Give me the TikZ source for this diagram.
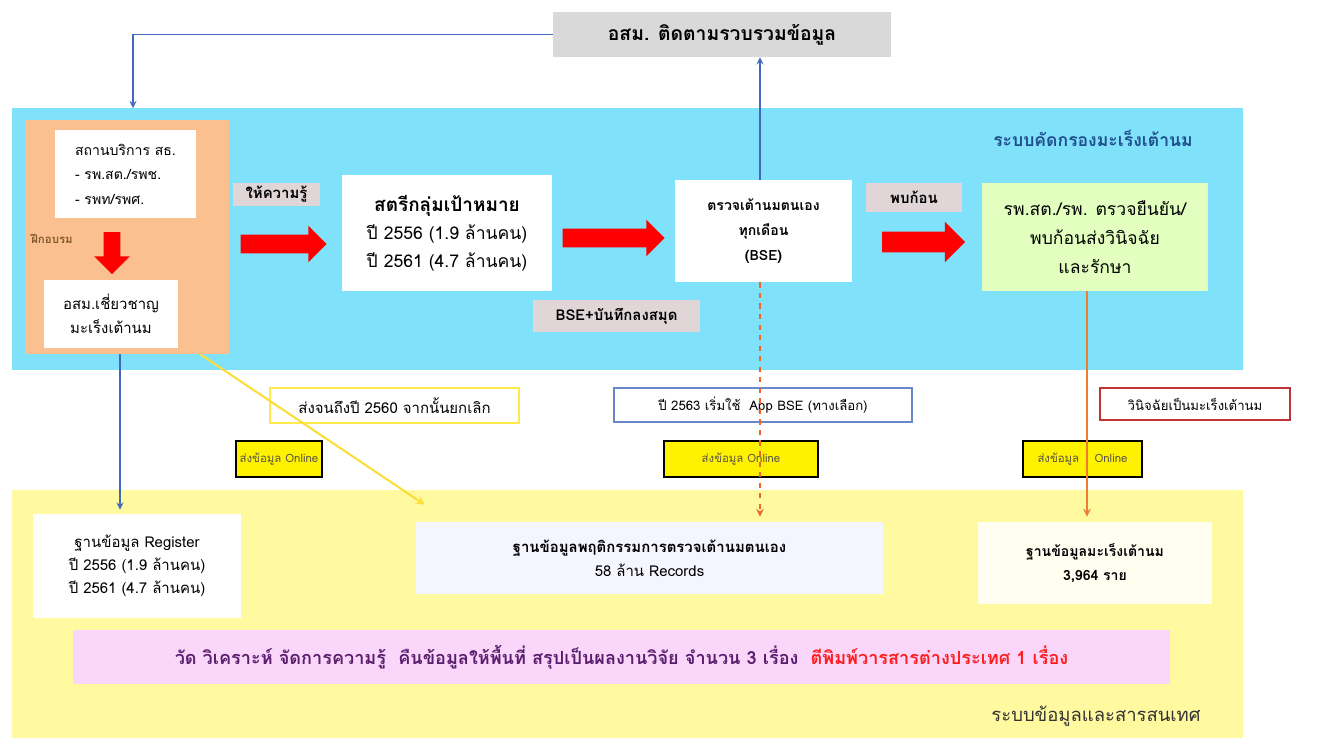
\documentclass[tikz,border=0pt]{standalone}
\usepackage{fontspec}
\setmainfont[Script=Thai]{Loma}
\usepackage{xcolor}
\definecolor{screen}{RGB}{128,226,250}
\definecolor{infosys}{RGB}{255,250,160}
\definecolor{svcorange}{RGB}{250,192,143}
\definecolor{tagc}{RGB}{224,214,216}
\definecolor{linkblue}{RGB}{68,104,190}
\definecolor{linkorange}{RGB}{237,125,49}
\definecolor{linkyellow}{RGB}{250,222,60}
\definecolor{titleblue}{RGB}{31,78,140}
\definecolor{sumpink}{RGB}{250,214,250}
\definecolor{sumtext}{RGB}{90,30,110}
\usepackage{tikz}
\usetikzlibrary{arrows,shapes,backgrounds,calc}

\begin{document}
\begin{tikzpicture}[x=0.02cm,y=-0.02cm,>=stealth,
  box/.style={fill=white,align=center,inner sep=0pt},
  tag/.style={fill=tagc,inner sep=0pt,font=\fontsize{8.5}{10}\selectfont\bfseries},
  note/.style={fill=white,draw,line width=0.8pt,inner sep=0pt,font=\fontsize{7.5}{9}\selectfont},
  online/.style={fill=yellow,draw=black,line width=1.3pt,inner sep=0pt,minimum height=0.72cm,
    text=black!75!yellow,font=\fontsize{6.5}{8}\selectfont},
  bigarrow/.style={single arrow,fill=red,inner xsep=0pt,inner ysep=0.18cm,single arrow head extend=0.18cm},
  link/.style={->,line width=0.8pt}]
  \useasboundingbox (0,0) rectangle (1321,738);
  % The two system areas:
  \fill[screen]  (12,108) rectangle (1243,370);
  \fill[infosys] (12,490) rectangle (1243,738);
  \node[font=\fontsize{10}{12}\selectfont\bfseries,text=titleblue] (screentitle) at (1093,138) {ระบบคัดกรองมะเร็งเต้านม};
  \node[font=\fontsize{10.5}{12}\selectfont,text=black!80] (infotitle) at (1096,716) {ระบบข้อมูลและสารสนเทศ};

  \node[box,fill=black!15,minimum width=6.76cm,minimum height=0.9cm,font=\fontsize{11}{13}\selectfont\bfseries] (top) at (722,34.5) {อสม. ติดตามรวบรวมข้อมูล};

  % The service box:
  \node[fill=svcorange,minimum width=4.08cm,minimum height=4.68cm] (svc) at (127,237) {};
  \node[box,minimum width=2.82cm,minimum height=1.76cm,align=left,font=\fontsize{8}{14}\selectfont] (hosp) at (125.5,174) {สถานบริการ สธ.\\- รพ.สต./รพช.\\- รพท/รพศ.};
  \node[text=brown!70!black,font=\fontsize{6.5}{7}\selectfont\bfseries] (train) at (52,239) {ฝึกอบรม};
  \node[bigarrow,shape border rotate=270,inner xsep=0.16cm,inner ysep=0pt,single arrow head extend=0.19cm,minimum height=0.84cm] (arrD) at (112,249) {};
  \node[box,minimum width=2.68cm,minimum height=1.36cm,font=\fontsize{8.5}{14}\selectfont] (vhv) at (111,314) {อสม.เชี่ยวชาญ\\มะเร็งเต้านม};

  % The screening chain:
  \node[tag,minimum width=1.74cm,minimum height=0.46cm] (teach) at (276.5,194.5) {ให้ความรู้};
  \node[bigarrow,minimum height=1.72cm] (arrA) at (279,244) {};
  \node[box,minimum width=4.2cm,minimum height=2.32cm,font=\fontsize{10}{16}\selectfont] (women) at (447,233) {\textbf{\fontsize{10.8}{16}\selectfont สตรีกลุ่มเป้าหมาย}\\ปี 2556 (1.9 ล้านคน)\\ปี 2561 (4.7 ล้านคน)};
  \node[bigarrow,minimum height=2.04cm] (arrB) at (609,238) {};
  \node[box,minimum width=3.54cm,minimum height=2.04cm,font=\fontsize{8}{14}\selectfont\bfseries] (bse) at (763.5,231) {ตรวจเต้านมตนเอง\\ทุกเดือน\\(BSE)};
  \node[tag,minimum width=3.34cm,minimum height=0.64cm] (record) at (616.5,316) {BSE+บันทึกลงสมุด};
  \node[tag,minimum width=1.92cm,minimum height=0.58cm] (lump) at (914,197.5) {พบก้อน};
  \node[bigarrow,minimum height=1.66cm,inner ysep=0.2cm,single arrow head extend=0.2cm] (arrC) at (918.5,242) {};
  \node[box,fill=green!45!yellow!25,minimum width=4.52cm,minimum height=2.16cm,font=\fontsize{10}{16.5}\selectfont] (confirm) at (1095,237) {รพ.สต./รพ. ตรวจยืนยัน/\\พบก้อนส่งวินิจฉัย\\และรักษา};

  % The notes between the areas:
  \node[note,draw=yellow!85!orange!70,minimum width=4.98cm,minimum height=0.7cm,font=\fontsize{8.5}{10}\selectfont] (until) at (394.5,405.5) {ส่งจนถึงปี 2560 จากนั้นยกเลิก};
  \node[note,draw=linkblue!80,minimum width=5.96cm,minimum height=0.68cm] (app) at (763,405) {ปี 2563 เริ่มใช้ \ App BSE (ทางเลือก)};
  \node[note,draw=red!70!black!80,minimum width=3.8cm,minimum height=0.64cm] (diag) at (1195,404) {วินิจฉัยเป็นมะเร็งเต้านม};
  \node[online,minimum width=1.72cm] (onA) at (279,459) {ส่งข้อมูล Online};
  \node[online,minimum width=3.08cm] (onB) at (741,459) {ส่งข้อมูล Online};
  \node[online,minimum width=2.38cm] (onC) at (1082.5,459) {ส่งข้อมูล \quad Online};

  % The databases:
  \node[box,minimum width=4.16cm,minimum height=2.08cm,font=\fontsize{8.5}{13}\selectfont] (reg) at (137,566) {ฐานข้อมูล Register\\ปี 2556 (1.9 ล้านคน)\\ปี 2561 (4.7 ล้านคน)};
  \node[box,fill=blue!4,minimum width=9.34cm,minimum height=1.44cm,font=\fontsize{8.5}{13.5}\selectfont] (behav) at (649.5,558) {\textbf{ฐานข้อมูลพฤติกรรมการตรวจเต้านมตนเอง}\\58 ล้าน Records};
  \node[box,fill=yellow!6,minimum width=4.68cm,minimum height=1.64cm,font=\fontsize{8}{13.5}\selectfont\bfseries] (cancer) at (1095,563) {ฐานข้อมูลมะเร็งเต้านม\\3,964 ราย};
  \node[box,fill=sumpink,minimum width=21.94cm,minimum height=1.08cm,text=sumtext,font=\fontsize{10.3}{12}\selectfont\bfseries] (sum) at (621.5,657) {วัด วิเคราะห์ จัดการความรู้ \ คืนข้อมูลให้พื้นที่ สรุปเป็นผลงานวิจัย จำนวน 3 เรื่อง \ \textcolor{red!85!pink}{ตีพิมพ์วารสารต่างประเทศ 1 เรื่อง}};

  % The connectors:
  \coordinate (svcin) at (133,108);
  \draw[link,linkblue] (top.west) -| (svcin);
  \draw[link,linkblue] (bse.north -| 760,0) -- (top.south -| 760,0);
  \draw[link,linkorange!80!red,dashed,line width=1pt] (bse.south -| 760,0) -- ([yshift=0.1cm]behav.north -| 760,0);
  \draw[link,linkorange,line width=1pt] (confirm.south -| 1087,0) -- ([yshift=0.1cm]cancer.north -| 1087,0);
  \draw[link,linkblue] (svc.south -| 120,0) -- ([yshift=0.08cm]reg.north -| 120,0);
  \draw[link,linkyellow,line width=1.2pt] ([xshift=-0.58cm]svc.south east) -- ([xshift=0.18cm,yshift=0.34cm]behav.north west);
\end{tikzpicture}
\end{document}
